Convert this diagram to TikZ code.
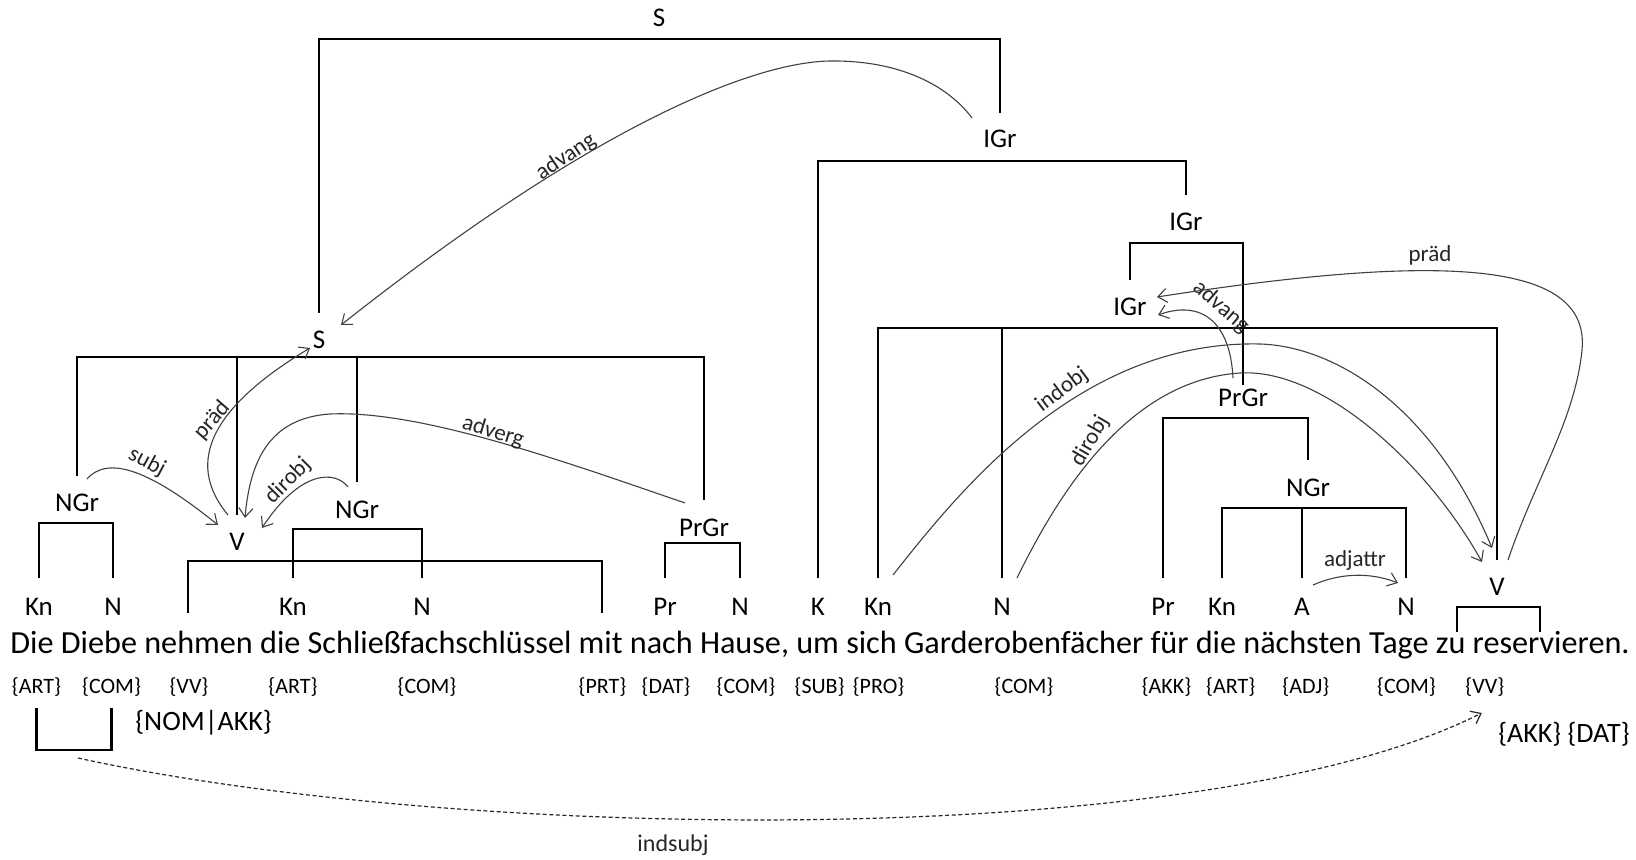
\documentclass[tikz,border=0pt]{standalone}
\usepackage{fontspec}
\setmainfont{Carlito}
\usetikzlibrary{arrows.meta,calc}
\begin{document}
\begin{tikzpicture}[x=0.5pt,y=-0.5pt,
  lab/.style={font=\fontsize{13.5}{16}\selectfont, inner sep=0pt, anchor=base},
  sent/.style={font=\fontsize{16.1}{19}\selectfont, inner sep=0pt, anchor=base west},
  ann/.style={font=\fontsize{11}{13}\selectfont, inner sep=0pt, anchor=base},
  big/.style={font=\fontsize{14}{17}\selectfont, inner sep=0pt},
  elab/.style={font=\fontsize{11.5}{14}\selectfont, inner sep=0pt, text=black!85},
  br/.style={draw=black, line width=1.3pt},
  arc/.style={draw=black!75, line width=0.55pt, -{Straight Barb[length=4.5pt,width=7pt]}},
  dsh/.style={arc, draw=black!85, line width=0.6pt, dash pattern=on 2pt off 1.3pt}]
\useasboundingbox (0,0) rectangle (1636,860);
% phrase labels
\node[lab] (Stop) at (659,27) {S};
\node[lab] (IGr1) at (1000,148) {IGr};
\node[lab] (IGr2) at (1186,231) {IGr};
\node[lab] (IGr3) at (1130,316) {IGr};
\node[lab] (S2) at (319,349) {S};
\node[lab] (PrGr2) at (1243,407) {PrGr};
\node[lab] (NGr2) at (1308,496) {NGr};
\node[lab] (NGr0) at (77,511) {NGr};
\node[lab] (NGr1) at (357,518) {NGr};
\node[lab] (PrGr1) at (704,536) {PrGr};
\node[lab] (V1) at (237,550) {V};
\node[lab] (V2) at (1497,595) {V};
% word class row
\node[lab] (Kn1) at (39,615) {Kn};
\node[lab] (N1) at (113,615) {N};
\node[lab] (Kn2) at (293,615) {Kn};
\node[lab] (N2) at (422,615) {N};
\node[lab] (Pr1) at (665,615) {Pr};
\node[lab] (N3) at (740,615) {N};
\node[lab] (K) at (818,615) {K};
\node[lab] (Kn3) at (878,615) {Kn};
\node[lab] (N4) at (1002,615) {N};
\node[lab] (Pr2) at (1163,615) {Pr};
\node[lab] (Kn4) at (1222,615) {Kn};
\node[lab] (A) at (1302,615) {A};
\node[lab] (N5) at (1406,615) {N};
% sentence
\node[sent] (sentence) at (10,653) {Die Diebe nehmen die Schließfachschlüssel mit nach Hause, um sich Garderobenfächer für die nächsten Tage zu reservieren.};
% annotations
\node[ann] (an1) at (36.5,693) {\{ART\}};
\node[ann] (an2) at (111.6,693) {\{COM\}};
\node[ann] (an3) at (189,693) {\{VV\}};
\node[ann] (an4) at (293,693) {\{ART\}};
\node[ann] (an5) at (427,693) {\{COM\}};
\node[ann] (an6) at (602.5,693) {\{PRT\}};
\node[ann] (an7) at (666,693) {\{DAT\}};
\node[ann] (an8) at (746,693) {\{COM\}};
\node[ann] (an9) at (819.6,693) {\{SUB\}};
\node[ann] (an10) at (878.5,693) {\{PRO\}};
\node[ann] (an11) at (1024,693) {\{COM\}};
\node[ann] (an12) at (1166.5,693) {\{AKK\}};
\node[ann] (an13) at (1230.7,693) {\{ART\}};
\node[ann] (an14) at (1305.8,693) {\{ADJ\}};
\node[ann] (an15) at (1406.5,693) {\{COM\}};
\node[ann] (an16) at (1484.8,693) {\{VV\}};
\node[big, anchor=base west] (nomakk) at (135,730) {\{NOM|AKK\}};
\node[big, anchor=base east] (akkdat) at (1630,742) {\{AKK\} \{DAT\}};
% brackets
\draw[br] (S2 |- 0,313) -- (S2 |- 0,39) -| (IGr1 |- 0,113);
\draw[br] (K |- 0,578) -- (K |- 0,161) -| (IGr2 |- 0,195);
\draw[br] (IGr3 |- 0,280) -- (IGr3 |- 0,243) -| (PrGr2 |- 0,385);
\draw[br] (Kn3 |- 0,578) -- (Kn3 |- 0,328) -| (V2 |- 0,560);
\draw[br] (N4 |- 0,328) -- (N4 |- 0,578);
\draw[br] (Pr2 |- 0,578) -- (Pr2 |- 0,418) -| (NGr2 |- 0,460);
\draw[br] (Kn4 |- 0,578) -- (Kn4 |- 0,508) -| (N5 |- 0,578);
\draw[br] (A |- 0,508) -- (A |- 0,578);
\draw[br] (NGr0 |- 0,476) -- (NGr0 |- 0,357) -| (PrGr1 |- 0,500);
\draw[br] (V1 |- 0,357) -- (V1 |- 0,515);
\draw[br] (NGr1 |- 0,357) -- (NGr1 |- 0,482);
\draw[br] (Kn1 |- 0,578) -- (Kn1 |- 0,523) -| (N1 |- 0,578);
\draw[br] (Kn2 |- 0,578) -- (Kn2 |- 0,529) -| (N2 |- 0,578);
\draw[br] (188,613) -- (188,561) -- (602,561) -- (602,613);
\draw[br] (Pr1 |- 0,578) -- (Pr1 |- 0,543) -| (N3 |- 0,578);
\draw[br] (1457,632) -- (1457,607) -- (1540,607) -- (1540,632);
\draw[br] (an1 |- 0,708) -- (an1 |- 0,750) -| (an2 |- 0,708);
\coordinate (bb) at (75,750);
% dependency arcs
\draw[arc] ($(NGr0.base)+(10,-32)$) .. controls (108,455) and (150,470) .. ($(V1.base)+(-19,-25)$);
\node[elab, rotate=-28] (lsubj) at (147,462) {subj};
\draw[arc] ($(V1.base)+(-9,-35)$) .. controls (195,475) and (190,420) .. ($(S2.base)+(-9,-1)$);
\node[elab, rotate=49] (lprad1) at (212,420) {präd};
\draw[arc] ($(PrGr1.base)+(-19,-33)$) .. controls (560,460) and (420,410) .. (330,414) .. controls (270,418) and (250,460) .. ($(V1.base)+(8,-32)$);
\node[elab, rotate=-17] (ladverg) at (493,432) {adverg};
\draw[arc] ($(NGr1.base)+(-9,-31)$) .. controls (335,470) and (300,470) .. ($(V1.base)+(25,-22)$);
\node[elab, rotate=45] (ldirobj1) at (288,481) {dirobj};
\draw[arc] ($(IGr1.base)+(-28,-30)$) .. controls (945,82) and (895,61) .. (834,61) .. controls (760,60) and (600,120) .. ($(S2.base)+(22,-24)$);
\node[elab, rotate=34] (ladvang1) at (566,157) {advang};
\draw[arc] ($(PrGr2.base)+(-10,-29)$) .. controls (1230,320) and (1200,300) .. ($(IGr3.base)+(28,-1)$);
\node[elab, rotate=-41] (ladvang2) at (1221,307) {advang};
\draw[arc] ($(V2.base)+(11,-35)$) .. controls (1535,480) and (1575,420) .. (1582,350) .. controls (1590,265) and (1460,250) .. ($(IGr3.base)+(27,-19)$);
\node[elab] (lprad2) at (1430,255) {präd};
\draw[arc] ($(Kn3.base)+(15,-40)$) .. controls (960,490) and (1080,340) .. (1260,344) .. controls (1330,346) and (1430,400) .. ($(V2.base)+(-5,-47)$);
\node[elab, rotate=37] (lindobj) at (1062,390) {indobj};
\draw[arc] ($(N4.base)+(15,-37)$) .. controls (1060,490) and (1130,380) .. (1240,373) .. controls (1320,368) and (1425,460) .. ($(V2.base)+(-15,-33)$);
\node[elab, rotate=60] (ldirobj2) at (1090,441) {dirobj};
\draw[arc] ($(A.base)+(11,-30)$) .. controls (1340,573) and (1370,572) .. ($(N5.base)+(-8,-32)$);
\node[elab] (ladjattr) at (1355,560) {adjattr};
\draw[dsh] ($(bb)+(3,8)$) .. controls (450,840) and (1200,855) .. ($(an16.base)+(-3,20)$);
\node[elab, font=\fontsize{12}{14}\selectfont] (lindsubj) at (673,845) {indsubj};
\end{tikzpicture}
\end{document}
